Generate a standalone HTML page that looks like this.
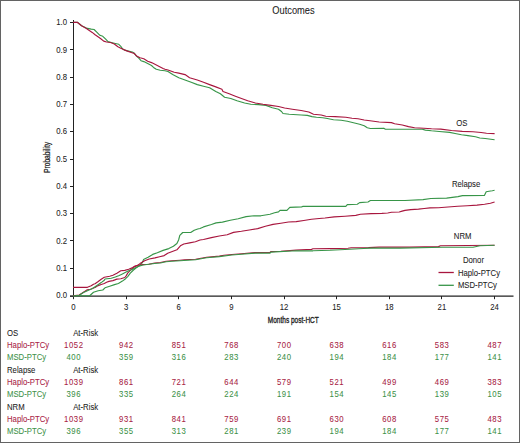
<!DOCTYPE html>
<html><head><meta charset="utf-8"><style>
html,body{margin:0;padding:0;background:#fff;}
body{width:520px;height:443px;overflow:hidden;}
svg{display:block;font-family:"Liberation Sans",sans-serif;}
text{fill:#222;stroke:#222;stroke-width:0.06px;}
</style></head><body>
<svg width="520" height="443" viewBox="0 0 520 443">
<rect x="0" y="0" width="520" height="443" fill="#fff"/>
<line x1="73.5" y1="20" x2="73.5" y2="299" stroke="#222" stroke-width="1"/>
<line x1="70" y1="296.2" x2="513.5" y2="296.2" stroke="#222" stroke-width="1.2"/>
<line x1="70" y1="296.20" x2="73" y2="296.20" stroke="#222" stroke-width="1"/>
<text transform="translate(67.00,298.20) scale(0.922,1)" text-anchor="end" style="font-size:8.4px;fill:#222;stroke:#222;">0.0</text>
<line x1="70" y1="268.50" x2="73" y2="268.50" stroke="#222" stroke-width="1"/>
<text transform="translate(67.00,270.90) scale(0.922,1)" text-anchor="end" style="font-size:8.4px;fill:#222;stroke:#222;">0.1</text>
<line x1="70" y1="240.50" x2="73" y2="240.50" stroke="#222" stroke-width="1"/>
<text transform="translate(67.00,243.60) scale(0.922,1)" text-anchor="end" style="font-size:8.4px;fill:#222;stroke:#222;">0.2</text>
<line x1="70" y1="213.50" x2="73" y2="213.50" stroke="#222" stroke-width="1"/>
<text transform="translate(67.00,216.30) scale(0.922,1)" text-anchor="end" style="font-size:8.4px;fill:#222;stroke:#222;">0.3</text>
<line x1="70" y1="186.50" x2="73" y2="186.50" stroke="#222" stroke-width="1"/>
<text transform="translate(67.00,189.00) scale(0.922,1)" text-anchor="end" style="font-size:8.4px;fill:#222;stroke:#222;">0.4</text>
<line x1="70" y1="159.50" x2="73" y2="159.50" stroke="#222" stroke-width="1"/>
<text transform="translate(67.00,161.70) scale(0.922,1)" text-anchor="end" style="font-size:8.4px;fill:#222;stroke:#222;">0.5</text>
<line x1="70" y1="131.50" x2="73" y2="131.50" stroke="#222" stroke-width="1"/>
<text transform="translate(67.00,134.40) scale(0.922,1)" text-anchor="end" style="font-size:8.4px;fill:#222;stroke:#222;">0.6</text>
<line x1="70" y1="104.50" x2="73" y2="104.50" stroke="#222" stroke-width="1"/>
<text transform="translate(67.00,107.10) scale(0.922,1)" text-anchor="end" style="font-size:8.4px;fill:#222;stroke:#222;">0.7</text>
<line x1="70" y1="77.50" x2="73" y2="77.50" stroke="#222" stroke-width="1"/>
<text transform="translate(67.00,79.80) scale(0.922,1)" text-anchor="end" style="font-size:8.4px;fill:#222;stroke:#222;">0.8</text>
<line x1="70" y1="49.50" x2="73" y2="49.50" stroke="#222" stroke-width="1"/>
<text transform="translate(67.00,52.50) scale(0.922,1)" text-anchor="end" style="font-size:8.4px;fill:#222;stroke:#222;">0.9</text>
<line x1="70" y1="22.50" x2="73" y2="22.50" stroke="#222" stroke-width="1"/>
<text transform="translate(67.00,25.20) scale(0.922,1)" text-anchor="end" style="font-size:8.4px;fill:#222;stroke:#222;">1.0</text>
<line x1="73.50" y1="296" x2="73.50" y2="299.2" stroke="#222" stroke-width="1"/>
<text transform="translate(73.50,309.70) scale(0.922,1)" text-anchor="middle" style="font-size:8.4px;fill:#222;stroke:#222;">0</text>
<line x1="126.50" y1="296" x2="126.50" y2="299.2" stroke="#222" stroke-width="1"/>
<text transform="translate(126.12,309.70) scale(0.922,1)" text-anchor="middle" style="font-size:8.4px;fill:#222;stroke:#222;">3</text>
<line x1="178.50" y1="296" x2="178.50" y2="299.2" stroke="#222" stroke-width="1"/>
<text transform="translate(178.75,309.70) scale(0.922,1)" text-anchor="middle" style="font-size:8.4px;fill:#222;stroke:#222;">6</text>
<line x1="231.50" y1="296" x2="231.50" y2="299.2" stroke="#222" stroke-width="1"/>
<text transform="translate(231.38,309.70) scale(0.922,1)" text-anchor="middle" style="font-size:8.4px;fill:#222;stroke:#222;">9</text>
<line x1="284.50" y1="296" x2="284.50" y2="299.2" stroke="#222" stroke-width="1"/>
<text transform="translate(284.00,309.70) scale(0.922,1)" text-anchor="middle" style="font-size:8.4px;fill:#222;stroke:#222;">12</text>
<line x1="336.50" y1="296" x2="336.50" y2="299.2" stroke="#222" stroke-width="1"/>
<text transform="translate(336.62,309.70) scale(0.922,1)" text-anchor="middle" style="font-size:8.4px;fill:#222;stroke:#222;">15</text>
<line x1="389.50" y1="296" x2="389.50" y2="299.2" stroke="#222" stroke-width="1"/>
<text transform="translate(389.25,309.70) scale(0.922,1)" text-anchor="middle" style="font-size:8.4px;fill:#222;stroke:#222;">18</text>
<line x1="441.50" y1="296" x2="441.50" y2="299.2" stroke="#222" stroke-width="1"/>
<text transform="translate(441.88,309.70) scale(0.922,1)" text-anchor="middle" style="font-size:8.4px;fill:#222;stroke:#222;">21</text>
<line x1="494.50" y1="296" x2="494.50" y2="299.2" stroke="#222" stroke-width="1"/>
<text transform="translate(494.50,309.70) scale(0.922,1)" text-anchor="middle" style="font-size:8.4px;fill:#222;stroke:#222;">24</text>
<polyline points="73,22.3 77.3,22.3 81.6,25.7 86.4,28.1 91.2,29.1 94.1,29.5 97,32.4 99.9,35.3 102.8,36.3 105.7,39.2 108,41.6 111.4,42.5 114.3,43.2 118.8,44.3 120.8,46.3 122.7,49.1 124.6,50.1 128.5,51.1 132.3,52 134.2,53 136.2,55.9 139,58.3 141,60.7 143.8,61.6 147.7,63.6 151.5,65.5 153.5,67.4 156.3,69.3 160.2,70.3 165,70.8 168,71.5 172.7,74.6 178.8,77.7 185,80 191.2,82.3 197.3,84.6 203.5,86.2 209.6,87.7 215.8,91.5 220.4,93.8 224.6,97.2 230.8,98.5 237,100.8 244.6,103 250.8,104.3 258.5,104.6 266,105.4 272.3,107.7 278.5,109.2 281.5,111.5 283,113.5 289.2,114.2 301.2,115 307.3,115.4 312,116.6 316.5,117.2 322.7,117.7 327.3,118.5 333.5,119.7 341.2,120.3 347.3,121.2 353.5,122.8 359.6,124.3 364.2,125.8 367.3,127.7 370.4,128.5 383.8,128.2 385.4,129.2 422.3,129.2 425.4,130.1 431.5,130.8 439.2,131.5 449.7,132.4 455.1,133.5 461.5,134.8 468,135.6 475.5,136.7 479.8,138 485.2,138.5 494.6,139.7" fill="none" stroke="#379548" stroke-width="1.15" stroke-linejoin="round"/>
<polyline points="73,22.3 77.3,22.3 81.6,25.7 86.4,28.6 89.3,30.5 92.2,32.4 95.1,34.8 98,36.8 100.8,38.7 103.7,41.1 106.6,42 110.5,42.5 114.3,44 117.9,46.7 120.8,48.2 123.7,49.6 127.5,51.1 131.3,52.5 134.2,53.5 137.1,56.3 140,57.8 143.8,58.8 147.7,61.2 151.5,62.6 155.4,64.5 159.2,66.4 163.1,68.4 165,69.3 168,70 174.2,72.3 178.8,73.1 185,74.6 189.6,77.7 197.3,80 203.5,82.3 209.6,84.6 215.8,86.9 221.9,89.2 223,91.5 229.2,93.8 235.4,96.2 241.5,98.5 247.7,100.8 255.4,103 263,104.3 270.8,105.4 278.5,106.5 284.6,108 292.3,109.2 301.2,110.5 308.8,112 313.5,114.2 321.2,115 325.8,116.2 335,116.6 345.8,117.2 352,118.2 358,118.8 364.2,120 370,120.8 379.2,122 391.5,122.6 394.6,123.8 402.3,125 408.5,126.6 414.6,127.7 423.8,128.2 431.5,128.8 440.8,129.1 451.5,130.5 462.3,131.4 473,131.8 481.1,132.5 486.5,133.2 494.6,133.6" fill="none" stroke="#a8163e" stroke-width="1.15" stroke-linejoin="round"/>
<polyline points="73,295.7 89.7,295.7 93.5,292.3 98.2,290.8 102.8,290 105,287.8 109.7,286.2 114.5,284.6 118.4,283.5 122.4,281.1 125.6,278.7 127.9,276.3 130.3,273.2 133.5,270 136.6,267.6 139.8,265.3 142.2,262.9 143.5,259.6 148.1,257.3 152.7,254.4 157.3,252.7 163.1,250.4 168.8,248.6 173.4,246.3 176.9,243.5 178.6,240 179.8,235.4 182.7,232.5 190.7,232.5 194.2,230.2 197.7,229 200,228.5 203.5,226.9 211.4,224.5 216.1,222.9 222.4,222.1 230.3,220.2 238.2,218.7 246.1,216.6 254,215.8 260.8,215.8 265.4,215 270,214.2 274.6,212.7 278.5,211.9 280,210.4 286.9,210.4 289.8,207.4 301.7,206.9 303.1,206.3 345.8,206.3 347.3,204.6 357.3,204.2 359.6,202.6 368,202 370.4,200.5 405,200.5 423,199.6 430.8,198.5 446.6,198.1 458,196.6 462.5,195.6 484.4,195.5 486.2,191.7 489,191.2 492.3,190.7 494.6,190.2" fill="none" stroke="#379548" stroke-width="1.15" stroke-linejoin="round"/>
<polyline points="73,295.7 79.2,295 87.3,289.8 90.5,289.2 95,287.5 98.2,285.6 101.2,284.5 104.3,283.5 106.6,282.2 108.9,281.4 112.9,280.6 116.9,279.1 120.8,278.7 124.8,277.5 126.3,275.6 127.9,272.8 130.3,270.4 134.2,266.9 137.4,265.5 140,263.6 144.6,260.8 149.2,259 155,257.9 159.6,256.7 164.2,255.6 167.7,253.3 172.3,251.5 176.9,249.8 180.4,245.8 183.8,244 189.6,242.9 195.4,241.7 200,240 203.5,239.5 211.4,237.6 219.3,236 227.2,234.8 233.5,232.4 241.4,231.3 249.3,230 257.7,228.6 265.4,226.3 273,224.4 280.8,223.2 288.5,222 296.2,221.6 303.8,220.5 311.5,219.3 319.2,218.5 325,218 334.2,216.9 345,216.2 355.8,215.4 360.4,214.3 371.2,213.6 381.9,213.4 387.7,213 391.5,212.3 399.2,212 402.1,211.1 405,210.4 410.8,209.6 418.5,209.1 424.2,208.5 430,207.9 438.5,207.7 448,207 457.7,206.3 467.3,205.7 477,205.1 484.6,204.3 490.4,203.2 494.6,202" fill="none" stroke="#a8163e" stroke-width="1.15" stroke-linejoin="round"/>
<polyline points="73,287.3 87.4,287.3 91.2,285.8 93.5,284.2 95,283.8 98.2,281.5 101.2,279.2 104.3,277.3 109.7,276.2 112.9,275.2 116.9,273.2 120.8,270.8 124.8,270.4 128.7,269.2 132.7,267.6 135,266.1 138.2,265.3 143,264.5 148.8,264.2 154.6,263 160.4,262.5 166.1,261.3 171.9,260.8 180,260.2 184.5,259.8 195.6,259.3 206.6,257.2 219.3,256.1 224,255.3 231.9,254.5 241.4,253.8 255,252.6 270,252.4 270.8,251.6 280.8,251.2 296.2,250.1 311.5,249.4 313,248.8 330,248.6 348,248.3 351.2,247.8 368.5,247.6 379.2,247.1 410,247.1 438.5,246.6 440.4,245.8 494.6,245.2" fill="none" stroke="#a8163e" stroke-width="1.15" stroke-linejoin="round"/>
<polyline points="73.0,296.0 79.3,295.3 83.5,292.6 87.4,290.7 92.0,288.8 96.6,285.7 101.2,282.6 104.3,280.3 105.0,279.0 111.3,278.2 115.3,277.0 119.2,275.5 122.4,273.9 125.6,272.3 128.7,270.7 131.9,269.5 135.0,267.9 138.2,266.4 142.2,265.2 145.0,264.8 154.6,263.5 160.4,263.0 166.1,261.8 171.9,261.3 180.0,260.7 195.6,259.8 206.6,257.7 219.3,256.6 231.9,255.0 241.4,254.3 255.0,253.1 270.0,253.1 270.8,252.1 296.2,250.8 313.0,250.8 330.0,250.3 345.0,249.5 363.5,248.5 369.6,248.1 400.0,248.1 442.3,247.3 473.0,247.2 480.0,245.7 494.6,245.3" fill="none" stroke="#379548" stroke-width="1.15" stroke-linejoin="round"/>
<text transform="translate(293.50,14.30) scale(0.922,1)" text-anchor="middle" style="font-size:10.1px;fill:#222;stroke:#222;">Outcomes</text>
<text transform="translate(456.20,126.40) scale(0.922,1)" style="font-size:8.4px;fill:#222;stroke:#222;">OS</text>
<text transform="translate(451.90,186.90) scale(0.922,1)" style="font-size:8.4px;fill:#222;stroke:#222;">Relapse</text>
<text transform="translate(453.80,239.20) scale(0.922,1)" style="font-size:8.4px;fill:#222;stroke:#222;">NRM</text>
<text transform="translate(462.90,263.30) scale(0.922,1)" style="font-size:8.4px;fill:#222;stroke:#222;">Donor</text>
<line x1="438.5" y1="272.5" x2="453.8" y2="272.5" stroke="#a8163e" stroke-width="1.3"/>
<line x1="438.5" y1="285.3" x2="453.8" y2="285.3" stroke="#379548" stroke-width="1.3"/>
<text transform="translate(457.90,275.50) scale(0.922,1)" style="font-size:8.4px;fill:#222;stroke:#222;">Haplo-PTCy</text>
<text transform="translate(457.90,288.00) scale(0.922,1)" style="font-size:8.4px;fill:#222;stroke:#222;">MSD-PTCy</text>
<text x="293.3" y="323.1" text-anchor="middle" style="font-size:9.7px;stroke-width:0.35px" textLength="50.9" lengthAdjust="spacingAndGlyphs">Months post-HCT</text>
<text transform="translate(50.2,157.4) rotate(-90)" text-anchor="middle" style="font-size:9.6px;stroke-width:0.25px" textLength="31.2" lengthAdjust="spacingAndGlyphs">Probability</text>
<text transform="translate(7.00,335.80) scale(0.922,1)" style="font-size:8.4px;fill:#222;stroke:#222;">OS</text>
<text transform="translate(73.20,335.80) scale(0.922,1)" style="font-size:8.4px;fill:#222;stroke:#222;">At-Risk</text>
<text transform="translate(7.00,347.90) scale(0.922,1)" style="font-size:8.4px;fill:#a81c44;stroke:#a81c44;">Haplo-PTCy</text>
<text transform="translate(73.78,347.90) scale(0.922,1)" text-anchor="middle" style="font-size:8.4px;fill:#a81c44;stroke:#a81c44;letter-spacing:0.6px;">1052</text>
<text transform="translate(126.40,347.90) scale(0.922,1)" text-anchor="middle" style="font-size:8.4px;fill:#a81c44;stroke:#a81c44;letter-spacing:0.6px;">942</text>
<text transform="translate(179.03,347.90) scale(0.922,1)" text-anchor="middle" style="font-size:8.4px;fill:#a81c44;stroke:#a81c44;letter-spacing:0.6px;">851</text>
<text transform="translate(231.65,347.90) scale(0.922,1)" text-anchor="middle" style="font-size:8.4px;fill:#a81c44;stroke:#a81c44;letter-spacing:0.6px;">768</text>
<text transform="translate(284.28,347.90) scale(0.922,1)" text-anchor="middle" style="font-size:8.4px;fill:#a81c44;stroke:#a81c44;letter-spacing:0.6px;">700</text>
<text transform="translate(336.90,347.90) scale(0.922,1)" text-anchor="middle" style="font-size:8.4px;fill:#a81c44;stroke:#a81c44;letter-spacing:0.6px;">638</text>
<text transform="translate(389.53,347.90) scale(0.922,1)" text-anchor="middle" style="font-size:8.4px;fill:#a81c44;stroke:#a81c44;letter-spacing:0.6px;">616</text>
<text transform="translate(442.15,347.90) scale(0.922,1)" text-anchor="middle" style="font-size:8.4px;fill:#a81c44;stroke:#a81c44;letter-spacing:0.6px;">583</text>
<text transform="translate(494.78,347.90) scale(0.922,1)" text-anchor="middle" style="font-size:8.4px;fill:#a81c44;stroke:#a81c44;letter-spacing:0.6px;">487</text>
<text transform="translate(7.00,360.10) scale(0.922,1)" style="font-size:8.4px;fill:#3d9148;stroke:#3d9148;">MSD-PTCy</text>
<text transform="translate(73.78,360.10) scale(0.922,1)" text-anchor="middle" style="font-size:8.4px;fill:#3d9148;stroke:#3d9148;letter-spacing:0.6px;">400</text>
<text transform="translate(126.40,360.10) scale(0.922,1)" text-anchor="middle" style="font-size:8.4px;fill:#3d9148;stroke:#3d9148;letter-spacing:0.6px;">359</text>
<text transform="translate(179.03,360.10) scale(0.922,1)" text-anchor="middle" style="font-size:8.4px;fill:#3d9148;stroke:#3d9148;letter-spacing:0.6px;">316</text>
<text transform="translate(231.65,360.10) scale(0.922,1)" text-anchor="middle" style="font-size:8.4px;fill:#3d9148;stroke:#3d9148;letter-spacing:0.6px;">283</text>
<text transform="translate(284.28,360.10) scale(0.922,1)" text-anchor="middle" style="font-size:8.4px;fill:#3d9148;stroke:#3d9148;letter-spacing:0.6px;">240</text>
<text transform="translate(336.90,360.10) scale(0.922,1)" text-anchor="middle" style="font-size:8.4px;fill:#3d9148;stroke:#3d9148;letter-spacing:0.6px;">194</text>
<text transform="translate(389.53,360.10) scale(0.922,1)" text-anchor="middle" style="font-size:8.4px;fill:#3d9148;stroke:#3d9148;letter-spacing:0.6px;">184</text>
<text transform="translate(442.15,360.10) scale(0.922,1)" text-anchor="middle" style="font-size:8.4px;fill:#3d9148;stroke:#3d9148;letter-spacing:0.6px;">177</text>
<text transform="translate(494.78,360.10) scale(0.922,1)" text-anchor="middle" style="font-size:8.4px;fill:#3d9148;stroke:#3d9148;letter-spacing:0.6px;">141</text>
<text transform="translate(7.00,372.50) scale(0.922,1)" style="font-size:8.4px;fill:#222;stroke:#222;">Relapse</text>
<text transform="translate(73.20,372.50) scale(0.922,1)" style="font-size:8.4px;fill:#222;stroke:#222;">At-Risk</text>
<text transform="translate(7.00,384.90) scale(0.922,1)" style="font-size:8.4px;fill:#a81c44;stroke:#a81c44;">Haplo-PTCy</text>
<text transform="translate(73.78,384.90) scale(0.922,1)" text-anchor="middle" style="font-size:8.4px;fill:#a81c44;stroke:#a81c44;letter-spacing:0.6px;">1039</text>
<text transform="translate(126.40,384.90) scale(0.922,1)" text-anchor="middle" style="font-size:8.4px;fill:#a81c44;stroke:#a81c44;letter-spacing:0.6px;">861</text>
<text transform="translate(179.03,384.90) scale(0.922,1)" text-anchor="middle" style="font-size:8.4px;fill:#a81c44;stroke:#a81c44;letter-spacing:0.6px;">721</text>
<text transform="translate(231.65,384.90) scale(0.922,1)" text-anchor="middle" style="font-size:8.4px;fill:#a81c44;stroke:#a81c44;letter-spacing:0.6px;">644</text>
<text transform="translate(284.28,384.90) scale(0.922,1)" text-anchor="middle" style="font-size:8.4px;fill:#a81c44;stroke:#a81c44;letter-spacing:0.6px;">579</text>
<text transform="translate(336.90,384.90) scale(0.922,1)" text-anchor="middle" style="font-size:8.4px;fill:#a81c44;stroke:#a81c44;letter-spacing:0.6px;">521</text>
<text transform="translate(389.53,384.90) scale(0.922,1)" text-anchor="middle" style="font-size:8.4px;fill:#a81c44;stroke:#a81c44;letter-spacing:0.6px;">499</text>
<text transform="translate(442.15,384.90) scale(0.922,1)" text-anchor="middle" style="font-size:8.4px;fill:#a81c44;stroke:#a81c44;letter-spacing:0.6px;">469</text>
<text transform="translate(494.78,384.90) scale(0.922,1)" text-anchor="middle" style="font-size:8.4px;fill:#a81c44;stroke:#a81c44;letter-spacing:0.6px;">383</text>
<text transform="translate(7.00,397.10) scale(0.922,1)" style="font-size:8.4px;fill:#3d9148;stroke:#3d9148;">MSD-PTCy</text>
<text transform="translate(73.78,397.10) scale(0.922,1)" text-anchor="middle" style="font-size:8.4px;fill:#3d9148;stroke:#3d9148;letter-spacing:0.6px;">396</text>
<text transform="translate(126.40,397.10) scale(0.922,1)" text-anchor="middle" style="font-size:8.4px;fill:#3d9148;stroke:#3d9148;letter-spacing:0.6px;">335</text>
<text transform="translate(179.03,397.10) scale(0.922,1)" text-anchor="middle" style="font-size:8.4px;fill:#3d9148;stroke:#3d9148;letter-spacing:0.6px;">264</text>
<text transform="translate(231.65,397.10) scale(0.922,1)" text-anchor="middle" style="font-size:8.4px;fill:#3d9148;stroke:#3d9148;letter-spacing:0.6px;">224</text>
<text transform="translate(284.28,397.10) scale(0.922,1)" text-anchor="middle" style="font-size:8.4px;fill:#3d9148;stroke:#3d9148;letter-spacing:0.6px;">191</text>
<text transform="translate(336.90,397.10) scale(0.922,1)" text-anchor="middle" style="font-size:8.4px;fill:#3d9148;stroke:#3d9148;letter-spacing:0.6px;">154</text>
<text transform="translate(389.53,397.10) scale(0.922,1)" text-anchor="middle" style="font-size:8.4px;fill:#3d9148;stroke:#3d9148;letter-spacing:0.6px;">145</text>
<text transform="translate(442.15,397.10) scale(0.922,1)" text-anchor="middle" style="font-size:8.4px;fill:#3d9148;stroke:#3d9148;letter-spacing:0.6px;">139</text>
<text transform="translate(494.78,397.10) scale(0.922,1)" text-anchor="middle" style="font-size:8.4px;fill:#3d9148;stroke:#3d9148;letter-spacing:0.6px;">105</text>
<text transform="translate(7.00,409.70) scale(0.922,1)" style="font-size:8.4px;fill:#222;stroke:#222;">NRM</text>
<text transform="translate(73.20,409.70) scale(0.922,1)" style="font-size:8.4px;fill:#222;stroke:#222;">At-Risk</text>
<text transform="translate(7.00,421.90) scale(0.922,1)" style="font-size:8.4px;fill:#a81c44;stroke:#a81c44;">Haplo-PTCy</text>
<text transform="translate(73.78,421.90) scale(0.922,1)" text-anchor="middle" style="font-size:8.4px;fill:#a81c44;stroke:#a81c44;letter-spacing:0.6px;">1039</text>
<text transform="translate(126.40,421.90) scale(0.922,1)" text-anchor="middle" style="font-size:8.4px;fill:#a81c44;stroke:#a81c44;letter-spacing:0.6px;">931</text>
<text transform="translate(179.03,421.90) scale(0.922,1)" text-anchor="middle" style="font-size:8.4px;fill:#a81c44;stroke:#a81c44;letter-spacing:0.6px;">841</text>
<text transform="translate(231.65,421.90) scale(0.922,1)" text-anchor="middle" style="font-size:8.4px;fill:#a81c44;stroke:#a81c44;letter-spacing:0.6px;">759</text>
<text transform="translate(284.28,421.90) scale(0.922,1)" text-anchor="middle" style="font-size:8.4px;fill:#a81c44;stroke:#a81c44;letter-spacing:0.6px;">691</text>
<text transform="translate(336.90,421.90) scale(0.922,1)" text-anchor="middle" style="font-size:8.4px;fill:#a81c44;stroke:#a81c44;letter-spacing:0.6px;">630</text>
<text transform="translate(389.53,421.90) scale(0.922,1)" text-anchor="middle" style="font-size:8.4px;fill:#a81c44;stroke:#a81c44;letter-spacing:0.6px;">608</text>
<text transform="translate(442.15,421.90) scale(0.922,1)" text-anchor="middle" style="font-size:8.4px;fill:#a81c44;stroke:#a81c44;letter-spacing:0.6px;">575</text>
<text transform="translate(494.78,421.90) scale(0.922,1)" text-anchor="middle" style="font-size:8.4px;fill:#a81c44;stroke:#a81c44;letter-spacing:0.6px;">483</text>
<text transform="translate(7.00,434.10) scale(0.922,1)" style="font-size:8.4px;fill:#3d9148;stroke:#3d9148;">MSD-PTCy</text>
<text transform="translate(73.78,434.10) scale(0.922,1)" text-anchor="middle" style="font-size:8.4px;fill:#3d9148;stroke:#3d9148;letter-spacing:0.6px;">396</text>
<text transform="translate(126.40,434.10) scale(0.922,1)" text-anchor="middle" style="font-size:8.4px;fill:#3d9148;stroke:#3d9148;letter-spacing:0.6px;">355</text>
<text transform="translate(179.03,434.10) scale(0.922,1)" text-anchor="middle" style="font-size:8.4px;fill:#3d9148;stroke:#3d9148;letter-spacing:0.6px;">313</text>
<text transform="translate(231.65,434.10) scale(0.922,1)" text-anchor="middle" style="font-size:8.4px;fill:#3d9148;stroke:#3d9148;letter-spacing:0.6px;">281</text>
<text transform="translate(284.28,434.10) scale(0.922,1)" text-anchor="middle" style="font-size:8.4px;fill:#3d9148;stroke:#3d9148;letter-spacing:0.6px;">239</text>
<text transform="translate(336.90,434.10) scale(0.922,1)" text-anchor="middle" style="font-size:8.4px;fill:#3d9148;stroke:#3d9148;letter-spacing:0.6px;">194</text>
<text transform="translate(389.53,434.10) scale(0.922,1)" text-anchor="middle" style="font-size:8.4px;fill:#3d9148;stroke:#3d9148;letter-spacing:0.6px;">184</text>
<text transform="translate(442.15,434.10) scale(0.922,1)" text-anchor="middle" style="font-size:8.4px;fill:#3d9148;stroke:#3d9148;letter-spacing:0.6px;">177</text>
<text transform="translate(494.78,434.10) scale(0.922,1)" text-anchor="middle" style="font-size:8.4px;fill:#3d9148;stroke:#3d9148;letter-spacing:0.6px;">141</text>
<path d="M0.5,0V443M0,0.5H520M519.5,0V443M0,442.5H520" fill="none" stroke="#636363" stroke-width="1"/>
</svg>
</body></html>
